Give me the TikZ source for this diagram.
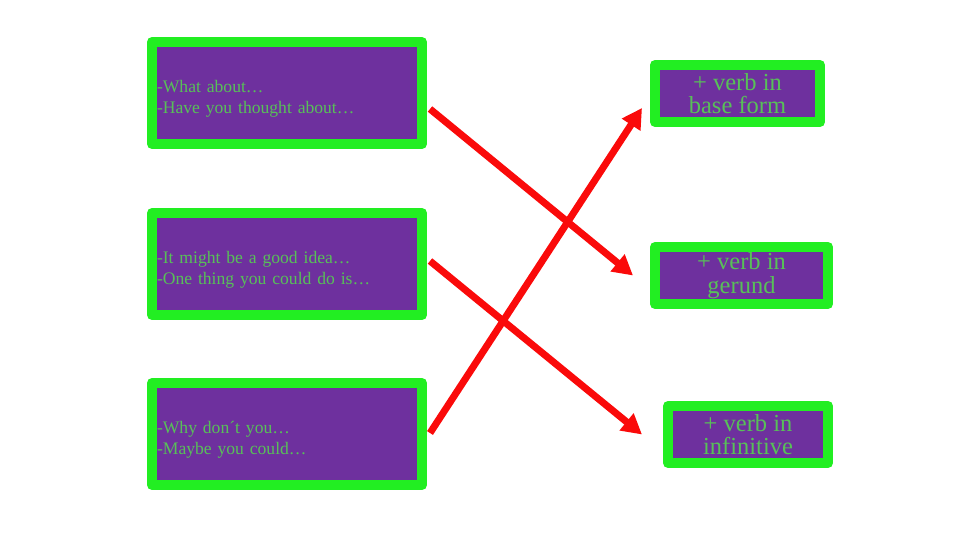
\documentclass[tikz,border=0pt]{standalone}
\usepackage{fontspec}
\setmainfont{Liberation Serif}
\usetikzlibrary{arrows.meta}
\definecolor{boxgreen}{RGB}{34,238,34}
\definecolor{boxpurple}{RGB}{110,48,158}
\definecolor{txtgreen}{RGB}{88,192,88}
\definecolor{arrred}{RGB}{250,10,10}
\newcommand{\firststrut}{\rule{0pt}{23pt}}
\tikzset{
  box/.style={draw=boxgreen, fill=boxpurple, line width=10pt, line join=round,
    inner sep=0pt, outer sep=0pt, text=txtgreen},
  leftbox/.style={box, minimum width=270pt, minimum height=102pt,
    text width=260pt, align=left, font=\fontsize{17.6}{21}\selectfont},
  rightbox/.style={box, minimum height=57pt, align=center,
    font=\fontsize{24.5}{23.5}\selectfont},
  conn/.style={draw=arrred, line width=7pt,
    -{Triangle[length=20pt,width=21pt]}}
}
\begin{document}
\begin{tikzpicture}[x=1pt,y=-1pt]
\useasboundingbox (0,0) rectangle (960,540);
\node[leftbox] (l1) at (287,93) {\firststrut-What about\ldots\\-Have you thought about\ldots};
\node[leftbox] (l2) at (287,264) {\firststrut-It might be a good idea\ldots\\-One thing you could do is\ldots};
\node[leftbox] (l3) at (287,434) {\firststrut-Why don´t you\ldots\\-Maybe you could\ldots};
\node[rightbox, minimum width=165pt] (r1) at (737.5,93.5) {+ verb in\\base form};
\node[rightbox, minimum width=173pt] (r2) at (741.5,275.5) {+ verb in\\gerund};
\node[rightbox, minimum width=160pt] (r3) at (748,434.5) {+ verb in\\infinitive};
\draw[conn] ([shift={(8,16)}]l1.east) -- ([shift={(-22,0)}]r2.west);
\draw[conn] ([shift={(8,-3)}]l2.east) -- ([shift={(-26,0)}]r3.west);
\draw[conn] ([shift={(8,-1)}]l3.east) -- ([shift={(-13,14.5)}]r1.west);
\end{tikzpicture}
\end{document}
